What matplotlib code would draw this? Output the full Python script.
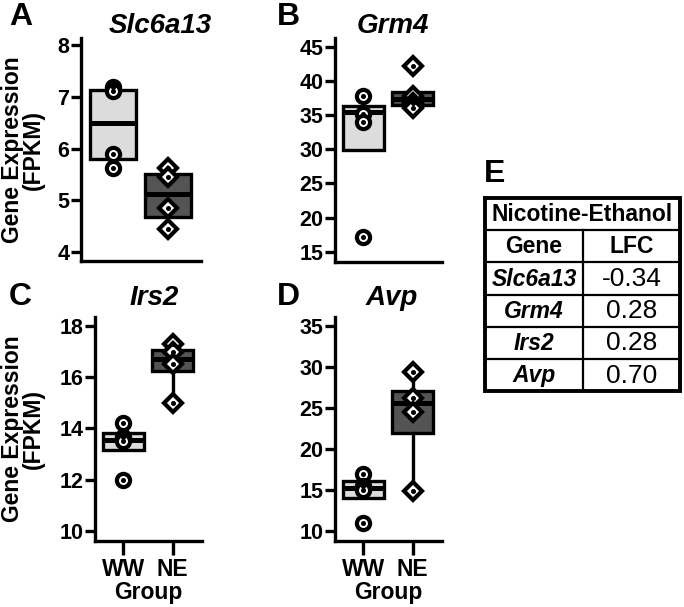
import numpy as np
import matplotlib
matplotlib.use("Agg")
from matplotlib import pyplot as plt

plt.rcParams['font.family'] = ['Liberation Sans', 'DejaVu Sans']
plt.rcParams['font.weight'] = 'bold'

groups = ['WW', 'NE']
genes = ['Slc6a13', 'Grm4', 'Irs2', 'Avp']
lfc = ['-0.34', '0.28', '0.28', '0.70']

# points per gene: WW, NE
ww_pts = {'Slc6a13': [7.2, 7.12, 5.9, 5.62],
          'Grm4': [37.8, 35.2, 34.0, 17.2],
          'Irs2': [14.2, 13.65, 13.5, 12.0],
          'Avp': [17.0, 15.5, 15.0, 11.0]}
ne_pts = {'Slc6a13': [5.62, 5.45, 4.85, 4.45],
          'Grm4': [42.2, 37.8, 36.8, 36.0],
          'Irs2': [17.3, 17.0, 16.5, 15.0],
          'Avp': [29.4, 26.2, 24.5, 14.9]}
# box stats: q1, med, q3, whislo, whishi
ww_box = {'Slc6a13': [5.8, 6.5, 7.13, 5.8, 7.13],
          'Grm4': [29.9, 35.4, 36.3, 29.9, 37.8],
          'Irs2': [13.15, 13.55, 13.8, 13.15, 14.2],
          'Avp': [14.0, 15.2, 16.1, 14.0, 17.0]}
ne_box = {'Slc6a13': [4.68, 5.12, 5.52, 4.68, 5.52],
          'Grm4': [36.5, 37.3, 38.4, 36.5, 38.4],
          'Irs2': [16.25, 16.7, 17.05, 15.0, 17.3],
          'Avp': [21.9, 25.6, 27.1, 14.9, 29.4]}

yticks = {'Slc6a13': [4, 5, 6, 7, 8],
          'Grm4': [15, 20, 25, 30, 35, 40, 45],
          'Irs2': [10, 12, 14, 16, 18],
          'Avp': [10, 15, 20, 25, 30, 35]}
ylims = {'Slc6a13': (3.83, 8.14), 'Grm4': (13.5, 46.3),
         'Irs2': (9.6, 18.35), 'Avp': (8.78, 36.1)}

W, H = 684, 607
fig = plt.figure(figsize=(W / 100, H / 100), dpi=100)


def px(x, y):
    return x / W, 1 - y / H


# axes rectangles in pixels: left, top, right, bottom
rects = {'Slc6a13': (81, 38, 201, 261), 'Grm4': (335, 38, 442, 262),
         'Irs2': (95, 317, 202, 541), 'Avp': (335, 317, 442, 541)}
letters = {'Slc6a13': ('A', 9, 25), 'Grm4': ('B', 277, 25),
           'Irs2': ('C', 9, 305), 'Avp': ('D', 277, 305)}
titles = {'Slc6a13': (160, 33), 'Grm4': (393, 33),
          'Irs2': (154, 305), 'Avp': (392, 305)}

box_colors = ['#dcdcdc', '#545454']

for g in genes:
    l, t, r, b = rects[g]
    ax = fig.add_axes([l / W, 1 - b / H, (r - l) / W, (b - t) / H])
    stats = []
    for bx in (ww_box[g], ne_box[g]):
        stats.append(dict(q1=bx[0], med=bx[1], q3=bx[2], whislo=bx[3], whishi=bx[4], fliers=[]))
    res = ax.bxp(stats, positions=[1, 2], widths=0.85, patch_artist=True,
                 showfliers=False, showcaps=False,
                 boxprops=dict(linewidth=2.4, edgecolor='black'),
                 medianprops=dict(linewidth=3.6, color='black'),
                 whiskerprops=dict(linewidth=2.4, color='black'))
    for patch, c in zip(res['boxes'], box_colors):
        patch.set_facecolor(c)
    for line in res['medians']:
        line.set_solid_capstyle('butt')

    for pos, pts, mk in ((1, ww_pts[g], 'o'), (2, ne_pts[g], 'D')):
        xs = np.full(len(pts), pos)
        ms = 9.5 if mk == 'o' else 9.0
        ax.plot(xs, pts, ls='none', marker=mk, ms=ms, mfc='white', mec='black',
                mew=3.0, zorder=4)
        ax.plot(xs, pts, ls='none', marker='o', ms=2.6, color='black', zorder=5)

    ax.set_xlim(0.42, 2.6)
    ax.set_ylim(*ylims[g])
    ax.set_yticks(yticks[g])
    ax.set_yticklabels([str(v) for v in yticks[g]], fontweight='bold')
    ax.spines['top'].set_visible(False)
    ax.spines['right'].set_visible(False)
    ax.spines['left'].set_linewidth(2.4)
    ax.spines['bottom'].set_linewidth(2.4)
    ax.tick_params(axis='y', length=7.5, width=2.4, labelsize=15.5, pad=1)
    if g in ('Irs2', 'Avp'):
        ax.set_xticks([1, 2])
        ax.set_xticklabels(groups, fontsize=16.5, fontweight='bold')
        ax.tick_params(axis='x', length=10, width=2.4, pad=2)
        ax.set_xlabel('Group', fontsize=16.5, fontweight='bold', labelpad=0)
    else:
        ax.set_xticks([])

    let, lx, ly = letters[g]
    fig.text(*px(lx, ly), let, fontsize=23, fontweight='bold', ha='left', va='baseline')
    tx, ty = titles[g]
    fig.text(*px(tx, ty), g, fontsize=20, fontweight='bold', style='italic',
             ha='center', va='baseline')

for g in ('Slc6a13', 'Irs2'):
    l, t, r, b = rects[g]
    fig.text(*px(23, (t + b) / 2), 'Gene Expression\n(FPKM)', rotation=90,
             fontsize=16.5, fontweight='bold', ha='center', va='center',
             multialignment='center', linespacing=0.9)

# panel E: table
fig.text(*px(484, 182), 'E', fontsize=23, fontweight='bold', ha='left', va='baseline')
tl, tt, tr, tb = 485, 198, 680, 391
tax = fig.add_axes([tl / W, 1 - tb / H, (tr - tl) / W, (tb - tt) / H])
nrows = 2 + len(genes)
tax.set_xlim(0, 2)
tax.set_ylim(nrows, 0)
tax.axis('off')
split = (583 - tl) / (tr - tl) * 2
for i in range(1, nrows):
    tax.plot([0, 2], [i, i], color='black', lw=1.6)
tax.plot([split, split], [1, nrows], color='black', lw=1.6)
tax.plot([0, 2, 2, 0, 0], [0, 0, nrows, nrows, 0], color='black', lw=2.8,
         solid_joinstyle='miter', clip_on=False)
tax.text(1, 0.52, 'Nicotine-Ethanol', fontsize=16.5, fontweight='bold', ha='center', va='center')
tax.text(split / 2, 1.52, 'Gene', fontsize=16.5, fontweight='bold', ha='center', va='center')
tax.text((split + 2) / 2, 1.52, 'LFC', fontsize=16.5, fontweight='bold', ha='center', va='center')
for i, (g, v) in enumerate(zip(genes, lfc)):
    tax.text(split / 2, 2.52 + i, g, fontsize=16.5, fontweight='bold', style='italic',
             ha='center', va='center')
    tax.text((split + 2) / 2, 2.52 + i, v, fontsize=19, fontweight='normal',
             ha='center', va='center')

fig.savefig('out.png', dpi=100)
